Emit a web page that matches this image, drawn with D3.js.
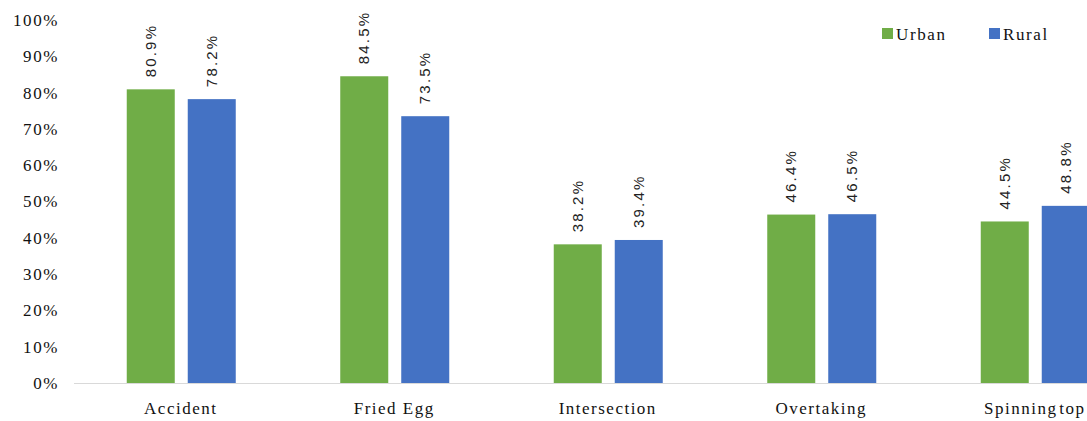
<!DOCTYPE html>
<html><head><meta charset="utf-8">
<script src="https://cdn.jsdelivr.net/npm/d3@7"></script>
<style>body{margin:0;background:#fff}svg{display:block}</style>
</head><body><svg id="c" width="1087" height="421"></svg>
<script>
const categories = ["Accident","Fried Egg","Intersection","Overtaking","Spinning top"];
const seriesNames = ["Urban","Rural"];
const urban = [80.9, 84.5, 38.2, 46.4, 44.5];
const rural = [78.2, 73.5, 39.4, 46.5, 48.8];
const yTicks = [0,10,20,30,40,50,60,70,80,90,100];
const colors = ["#70AD47","#4472C4"];

const svg = d3.select("#c");
const serif = "'Liberation Serif','Times New Roman',serif";
const sans = "'Liberation Sans',Arial,sans-serif";
const x = d3.scaleBand().domain(categories).range([74, 1141.5]);
const y = d3.scaleLinear().domain([0,100]).range([383, 20]);
const inner = d3.scaleBand().domain(seriesNames).range([-54, 55]).paddingInner(0.213);

// y tick labels
svg.append("g").selectAll("text").data(yTicks).join("text")
  .attr("x", 59).attr("y", d => y(d)).attr("dy","0.35em")
  .attr("text-anchor","end").attr("font-family",serif).attr("font-size",17)
  .attr("letter-spacing",1.6).attr("fill","#111")
  .text(d => d + "%");

// baseline
svg.append("line").attr("x1",74).attr("x2",1087).attr("y1",y(0)+0.5).attr("y2",y(0)+0.5)
  .attr("stroke","#d9d9d9").attr("stroke-width",1);

const data = [urban, rural];
seriesNames.forEach((s,si) => {
  const g = svg.append("g");
  g.selectAll("rect").data(categories).join("rect")
    .attr("x", c => x(c) + x.bandwidth()/2 + inner(s))
    .attr("width", inner.bandwidth())
    .attr("y", (c,i) => y(data[si][i]))
    .attr("height", (c,i) => y(0) - y(data[si][i]))
    .attr("fill", colors[si]);
  g.selectAll("text").data(categories).join("text")
    .attr("transform", (c,i) => `translate(${x(c) + x.bandwidth()/2 + inner(s) + inner.bandwidth()/2 + 5},${y(data[si][i]) - 12}) rotate(-90)`)
    .attr("font-family",sans).attr("font-size",15).attr("letter-spacing",2.2).attr("fill","#222")
    .text((c,i) => data[si][i].toFixed(1) + "%");
});

// category labels
svg.append("g").selectAll("text").data(categories).join("text")
  .attr("x", c => x(c) + x.bandwidth()/2).attr("y", 414)
  .attr("text-anchor","middle").attr("font-family",serif).attr("font-size",17)
  .attr("letter-spacing",1.5).attr("word-spacing",(c,i) => i === categories.length-1 ? -4 : 0).attr("fill","#111")
  .text(c => c);

// legend
const legX = [882, 989];
seriesNames.forEach((s,i) => {
  svg.append("rect").attr("x",legX[i]).attr("y",28).attr("width",11).attr("height",11).attr("fill",colors[i]);
  svg.append("text").attr("x",legX[i]+14).attr("y",40)
    .attr("font-family",serif).attr("font-size",17).attr("letter-spacing",1.6).attr("fill","#111").text(s);
});
</script></body></html>
